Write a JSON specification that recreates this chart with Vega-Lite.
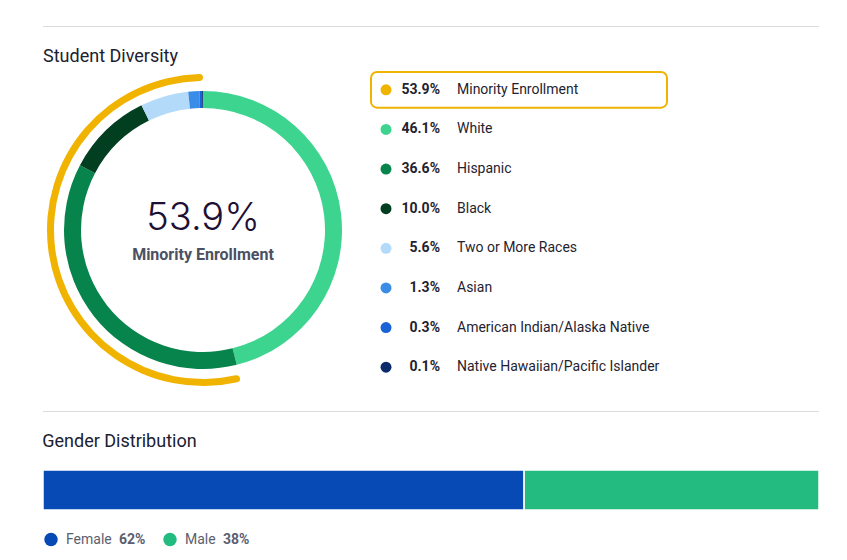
{
  "$schema": "https://vega.github.io/schema/vega-lite/v6.json",
  "padding": {"left": 42, "top": 26, "right": 29, "bottom": 0},
  "background": "white",
  "spacing": 21,
  "config": {
    "view": {"stroke": null},
    "font": "Roboto",
    "title": {"font": "Roboto", "fontSize": 18, "fontWeight": "normal", "color": "#1b2130", "anchor": "start", "baseline": "alphabetic"}
  },
  "resolve": {"scale": {"color": "independent", "x": "independent", "y": "independent"}},
  "datasets": {
    "race": [
      {"group": "White", "pct": 46.1, "order": 1},
      {"group": "Hispanic", "pct": 36.6, "order": 2},
      {"group": "Black", "pct": 10.0, "order": 3},
      {"group": "Two or More Races", "pct": 5.6, "order": 4},
      {"group": "Asian", "pct": 1.3, "order": 5},
      {"group": "American Indian/Alaska Native", "pct": 0.3, "order": 6},
      {"group": "Native Hawaiian/Pacific Islander", "pct": 0.1, "order": 7}
    ],
    "legend": [
      {"group": "Minority Enrollment", "share": 0.539, "order": 0},
      {"group": "White", "share": 0.461, "order": 1},
      {"group": "Hispanic", "share": 0.366, "order": 2},
      {"group": "Black", "share": 0.100, "order": 3},
      {"group": "Two or More Races", "share": 0.056, "order": 4},
      {"group": "Asian", "share": 0.013, "order": 5},
      {"group": "American Indian/Alaska Native", "share": 0.003, "order": 6},
      {"group": "Native Hawaiian/Pacific Islander", "share": 0.001, "order": 7}
    ],
    "minority": [{"label": "Minority Enrollment", "share": 0.539, "start": 46.1, "end": 100}],
    "gender": [{"gender": "Female", "pct": 62, "share": 0.62}, {"gender": "Male", "pct": 38, "share": 0.38}],
    "sep": [{"section": "line"}]
  },
  "vconcat": [
    {
      "width": 776, "height": 1,
      "data": {"name": "sep"},
      "mark": {"type": "rect", "fill": "#dcdcdc"},
      "encoding": {}
    },
    {
      "title": {"text": "Student Diversity", "offset": 4},
      "spacing": 7,
      "resolve": {"scale": {"color": "independent"}},
      "hconcat": [
        {
          "width": 320, "height": 320,
          "layer": [
            {
              "data": {"name": "race"},
              "mark": {"type": "arc", "radius": 139, "radius2": 122},
              "encoding": {
                "theta": {"field": "pct", "type": "quantitative", "stack": true},
                "order": {"field": "order", "type": "quantitative"},
                "color": {
                  "field": "group", "type": "nominal", "legend": null,
                  "scale": {
                    "domain": ["White", "Hispanic", "Black", "Two or More Races", "Asian", "American Indian/Alaska Native", "Native Hawaiian/Pacific Islander"],
                    "range": ["#3dd490", "#07844b", "#023f20", "#b3daf8", "#3a8de6", "#1a63d6", "#0b2a6c"]
                  }
                }
              }
            },
            {
              "data": {"name": "minority"},
              "mark": {"type": "arc", "radius": 156, "radius2": 149, "cornerRadius": 3.5, "color": "#f0b400"},
              "encoding": {
                "theta": {"field": "start", "type": "quantitative", "scale": {"domain": [0, 100]}},
                "theta2": {"field": "end"}
              }
            },
            {
              "data": {"name": "minority"},
              "mark": {"type": "text", "font": "Inter", "fontWeight": 300, "fontSize": 38, "color": "#1e0f35", "baseline": "alphabetic", "align": "center", "dy": 0},
              "encoding": {"text": {"field": "share", "type": "quantitative", "format": ".1%"}}
            },
            {
              "data": {"name": "minority"},
              "mark": {"type": "text", "font": "Roboto", "fontWeight": "bold", "fontSize": 16, "color": "#4b5163", "baseline": "alphabetic", "align": "center", "dy": 30},
              "encoding": {"text": {"field": "label", "type": "nominal"}}
            }
          ],
          "resolve": {"scale": {"theta": "independent"}}
        },
        {
          "width": 296, "height": 317,
          "data": {"name": "legend"},
          "encoding": {
            "y": {
              "field": "group", "type": "nominal", "axis": null,
              "scale": {
                "domain": ["Minority Enrollment", "White", "Hispanic", "Black", "Two or More Races", "Asian", "American Indian/Alaska Native", "Native Hawaiian/Pacific Islander"],
                "paddingInner": 0.1, "paddingOuter": 0.05
              }
            }
          },
          "layer": [
            {
              "transform": [{"filter": "datum.order == 0"}],
              "mark": {"type": "rect", "fill": "white", "stroke": "#f0b400", "strokeWidth": 2, "cornerRadius": 6}
            },
            {
              "mark": {"type": "point", "filled": true, "size": 120, "opacity": 1, "xOffset": -133},
              "encoding": {
                "color": {
                  "field": "group", "type": "nominal", "legend": null,
                  "scale": {
                    "domain": ["Minority Enrollment", "White", "Hispanic", "Black", "Two or More Races", "Asian", "American Indian/Alaska Native", "Native Hawaiian/Pacific Islander"],
                    "range": ["#f0b400", "#3dd490", "#07844b", "#023f20", "#b3daf8", "#3a8de6", "#1a63d6", "#0b2a6c"]
                  }
                }
              }
            },
            {
              "mark": {"type": "text", "font": "Roboto", "fontWeight": "bold", "fontSize": 14, "color": "#1f2330", "align": "right", "baseline": "middle", "dx": -79},
              "encoding": {"text": {"field": "share", "type": "quantitative", "format": ".1%"}}
            },
            {
              "mark": {"type": "text", "font": "Roboto", "fontSize": 14, "color": "#1f2330", "align": "left", "baseline": "middle", "dx": -62},
              "encoding": {"text": {"field": "group", "type": "nominal"}}
            }
          ]
        }
      ]
    },
    {
      "width": 776, "height": 1,
      "data": {"name": "sep"},
      "mark": {"type": "rect", "fill": "#dcdcdc"},
      "encoding": {}
    },
    {
      "title": {"text": "Gender Distribution", "offset": 18},
      "width": 776, "height": 40,
      "data": {"name": "gender"},
      "mark": {"type": "bar", "stroke": "white", "strokeWidth": 1.5},
      "encoding": {
        "x": {"field": "pct", "type": "quantitative", "stack": true, "axis": null, "scale": {"domain": [0, 100], "nice": false}},
        "y": {"datum": "Students", "type": "nominal", "axis": null, "scale": {"paddingInner": 0, "paddingOuter": 0}},
        "order": {"field": "gender", "type": "nominal", "sort": "ascending"},
        "color": {"field": "gender", "type": "nominal", "legend": null, "scale": {"domain": ["Female", "Male"], "range": ["#0749b5", "#23bb80"]}}
      }
    },
    {
      "width": 119, "height": 1,
      "data": {"name": "gender"},
      "encoding": {
        "x": {"field": "gender", "type": "nominal", "axis": null, "scale": {"type": "point", "padding": 0}}
      },
      "layer": [
        {
          "mark": {"type": "point", "filled": true, "size": 180, "opacity": 1, "xOffset": 8, "yOffset": -4},
          "encoding": {
            "color": {"field": "gender", "type": "nominal", "legend": null, "scale": {"domain": ["Female", "Male"], "range": ["#0749b5", "#23bb80"]}}
          }
        },
        {
          "mark": {"type": "text", "font": "Roboto", "fontSize": 14, "color": "#5b6070", "align": "left", "baseline": "middle", "dx": 23, "dy": -4},
          "encoding": {"text": {"field": "gender", "type": "nominal"}}
        },
        {
          "mark": {"type": "text", "font": "Roboto", "fontWeight": "bold", "fontSize": 14, "color": "#5b6070", "align": "left", "baseline": "middle", "dy": -4, "dx": {"expr": "31 + length(datum.gender) * 7.5"}},
          "encoding": {"text": {"field": "share", "type": "quantitative", "format": ".0%"}}
        }
      ]
    }
  ]
}
